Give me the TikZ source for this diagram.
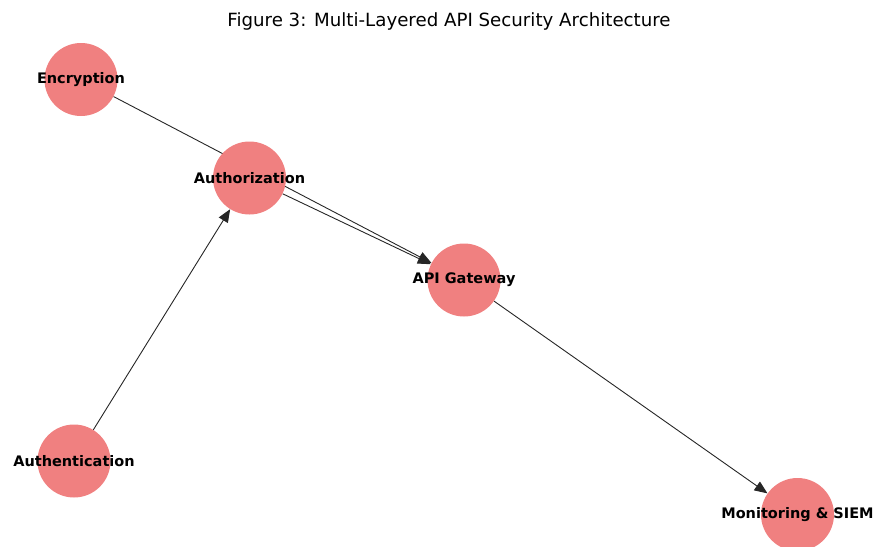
\documentclass[tikz,border=0pt]{standalone}
\usepackage{fontspec}
\setmainfont{DejaVu Sans}
\usetikzlibrary{arrows.meta,backgrounds}
\definecolor{nodefill}{HTML}{F08080}
\begin{document}
\begin{tikzpicture}[x=1pt,y=-1pt,
  gnode/.style={circle,fill=nodefill,minimum size=73pt,inner sep=0pt},
  glabel/.style={font=\bfseries\fontsize{14.5}{17}\selectfont,text=black},
  edge/.style={draw=black!85,line width=0.9pt,-{Triangle[length=13pt,width=10.5pt]}}]
\useasboundingbox (0,0) rectangle (874,546);
\node[font=\fontsize{18.2}{21}\selectfont] (title) at (449,21) {Figure 3: Multi-Layered API Security Architecture};
\node[gnode] (enc) at (81,79.5) {};
\node[gnode] (authz) at (249.5,178) {};
\node[gnode] (api) at (464,280) {};
\node[gnode] (authn) at (74,461) {};
\node[gnode] (mon) at (797.5,514.5) {};
\node[glabel] (lenc) at (enc) {Encryption};
\node[glabel] (lauthz) at (authz) {Authorization};
\node[glabel] (lapi) at (api) {API Gateway};
\node[glabel] (lauthn) at (authn) {Authentication};
\node[glabel] (lmon) at (mon) {Monitoring \& SIEM};
\begin{scope}[on background layer]
\draw[edge] (enc) -- (api);
\draw[edge] (authz) -- (api);
\draw[edge] (authn) -- (authz);
\draw[edge] (api) -- (mon);
\end{scope}
\end{tikzpicture}
\end{document}
